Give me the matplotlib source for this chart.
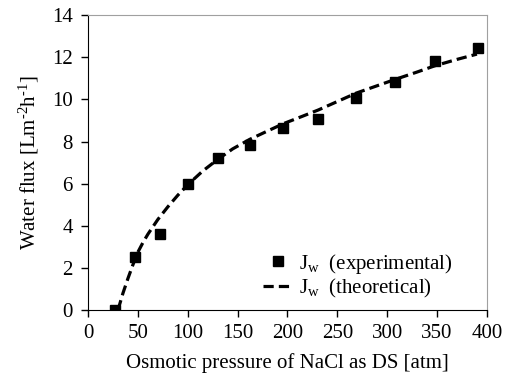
import numpy as np
import matplotlib
matplotlib.use('Agg')
import matplotlib.pyplot as plt

plt.rcParams['font.family'] = ['Liberation Serif', 'DejaVu Serif']
plt.rcParams['mathtext.fontset'] = 'custom'
plt.rcParams['mathtext.rm'] = 'Liberation Serif'
plt.rcParams['mathtext.it'] = 'Liberation Serif:italic'

# 实验数据点
pi_exp = [27, 47, 72, 100, 130, 162, 196, 231, 269, 308, 348, 391]
jw_exp = [0.0, 2.5, 3.6, 6.0, 7.2, 7.85, 8.65, 9.05, 10.05, 10.85, 11.83, 12.45]

# 理论曲线
pi_theo = [30, 35, 40, 45, 50, 55, 60, 70, 80, 90, 100, 115, 130, 145, 162,
           180, 196, 215, 231, 250, 269, 290, 308, 330, 348, 370, 390]
jw_theo = [0.0, 0.8, 1.5, 2.15, 2.75, 3.2, 3.6, 4.3, 4.9, 5.45, 5.95, 6.6, 7.15,
           7.65, 8.1, 8.5, 8.85, 9.2, 9.5, 9.9, 10.3, 10.65, 10.95, 11.3, 11.6,
           11.9, 12.15]

fig = plt.figure(figsize=(5.12, 3.79), dpi=100)
ax = fig.add_axes([0.172, 0.182, 0.779, 0.778])

ax.plot(pi_exp, jw_exp, 's', color='black', markersize=7,
        label=r'J$_\mathrm{w}$  (experimental)', zorder=3)
ax.plot(pi_theo, jw_theo, '--', color='black', linewidth=2.3, dashes=(3.2, 1.6),
        label=r'J$_\mathrm{w}$  (theoretical)')

ax.set_xlim(0, 400)
ax.set_ylim(0, 14)
ax.set_xticks(np.arange(0, 401, 50))
ax.set_yticks(np.arange(0, 15, 2))
ax.tick_params(direction='out', length=5, width=1, labelsize=15, colors='black')
ax.tick_params(axis='x', pad=5)
ax.tick_params(axis='y', pad=6)

for s in ['top', 'right']:
    ax.spines[s].set_color('#a0a0a0')
for s in ['left', 'bottom']:
    ax.spines[s].set_color('black')

ax.set_xlabel('Osmotic pressure of NaCl as DS [atm]', fontsize=15, labelpad=7)
ax.set_ylabel(r'Water flux [Lm$^{\text{-}2}$h$^{\text{-}1}$]', fontsize=15, labelpad=8)

ax.legend(loc='lower right', bbox_to_anchor=(0.915, 0.035), frameon=False,
          fontsize=15, handlelength=1.45, handletextpad=0.3, borderpad=0,
          borderaxespad=0, labelspacing=0.05)

fig.savefig('out.png', dpi=100)
